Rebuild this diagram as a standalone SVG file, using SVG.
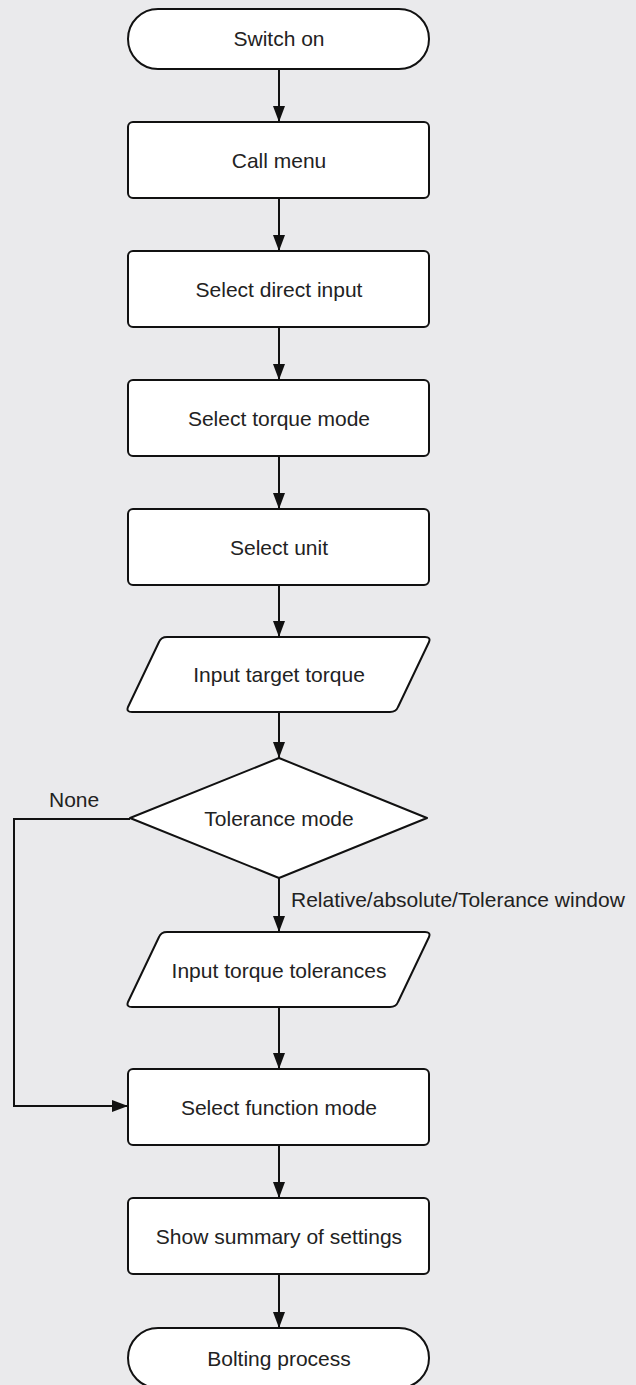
<svg xmlns="http://www.w3.org/2000/svg" width="636" height="1385" viewBox="0 0 636 1385">
<defs>
<marker id="ah" viewBox="0 0 16 12" refX="16" refY="6" markerWidth="16" markerHeight="12" markerUnits="userSpaceOnUse" orient="auto">
<path d="M0,0 L16,6 L0,12 Z" fill="#111"/>
</marker>
<style>
.shape{fill:#fff;stroke:#111;stroke-width:2;stroke-linejoin:round}
.lbl{font-family:"Liberation Sans",Arial,sans-serif;font-size:21px;fill:#222;text-anchor:middle}
.lbl2{font-family:"Liberation Sans",Arial,sans-serif;font-size:21px;fill:#222}
.edge{fill:none;stroke:#111;stroke-width:2}
</style>
</defs>
<rect x="0" y="0" width="636" height="1385" fill="#eaeaec"/>
<g id="connectors">
<line class="edge" x1="279" y1="69" x2="279" y2="122" marker-end="url(#ah)"/>
<line class="edge" x1="279" y1="198" x2="279" y2="251" marker-end="url(#ah)"/>
<line class="edge" x1="279" y1="327" x2="279" y2="380" marker-end="url(#ah)"/>
<line class="edge" x1="279" y1="456" x2="279" y2="509" marker-end="url(#ah)"/>
<line class="edge" x1="279" y1="585" x2="279" y2="637" marker-end="url(#ah)"/>
<line class="edge" x1="279" y1="712" x2="279" y2="758" marker-end="url(#ah)"/>
<line class="edge" x1="279" y1="878" x2="279" y2="932" marker-end="url(#ah)"/>
<line class="edge" x1="279" y1="1007" x2="279" y2="1069" marker-end="url(#ah)"/>
<line class="edge" x1="279" y1="1145" x2="279" y2="1198" marker-end="url(#ah)"/>
<line class="edge" x1="279" y1="1274" x2="279" y2="1328" marker-end="url(#ah)"/>
<polyline class="edge" points="130,819 14,819 14,1106 128,1106" marker-end="url(#ah)"/>
<text class="lbl2" x="49" y="807">None</text>
<text class="lbl2" x="291" y="907">Relative/absolute/Tolerance window</text>
</g>
<g id="switch-on">
<rect class="shape" x="128" y="9" width="301" height="60" rx="30"/>
<text class="lbl" x="279" y="46">Switch on</text>
</g>
<g id="call-menu">
<rect class="shape" x="128" y="122" width="301" height="76" rx="5"/>
<text class="lbl" x="279" y="168">Call menu</text>
</g>
<g id="select-direct-input">
<rect class="shape" x="128" y="251" width="301" height="76" rx="5"/>
<text class="lbl" x="279" y="297">Select direct input</text>
</g>
<g id="select-torque-mode">
<rect class="shape" x="128" y="380" width="301" height="76" rx="5"/>
<text class="lbl" x="279" y="426">Select torque mode</text>
</g>
<g id="select-unit">
<rect class="shape" x="128" y="509" width="301" height="76" rx="5"/>
<text class="lbl" x="279" y="555">Select unit</text>
</g>
<g id="input-target-torque">
<path class="shape" d="M167,637 L425,637 Q431,637 429,642 L398,707 Q396,712 390,712 L132,712 Q126,712 128,707 L159,642 Q161,637 167,637 Z"/>
<text class="lbl" x="279" y="682">Input target torque</text>
</g>
<g id="tolerance-mode">
<polygon class="shape" points="279,758 427,818 279,878 130,818"/>
<text class="lbl" x="279" y="826">Tolerance mode</text>
</g>
<g id="input-torque-tolerances">
<path class="shape" d="M167,932 L425,932 Q431,932 429,937 L398,1002 Q396,1007 390,1007 L132,1007 Q126,1007 128,1002 L159,937 Q161,932 167,932 Z"/>
<text class="lbl" x="279" y="978">Input torque tolerances</text>
</g>
<g id="select-function-mode">
<rect class="shape" x="128" y="1069" width="301" height="76" rx="5"/>
<text class="lbl" x="279" y="1115">Select function mode</text>
</g>
<g id="show-summary">
<rect class="shape" x="128" y="1198" width="301" height="76" rx="5"/>
<text class="lbl" x="279" y="1244">Show summary of settings</text>
</g>
<g id="bolting-process">
<rect class="shape" x="128" y="1328" width="301" height="60" rx="30"/>
<text class="lbl" x="279" y="1366">Bolting process</text>
</g>
</svg>
